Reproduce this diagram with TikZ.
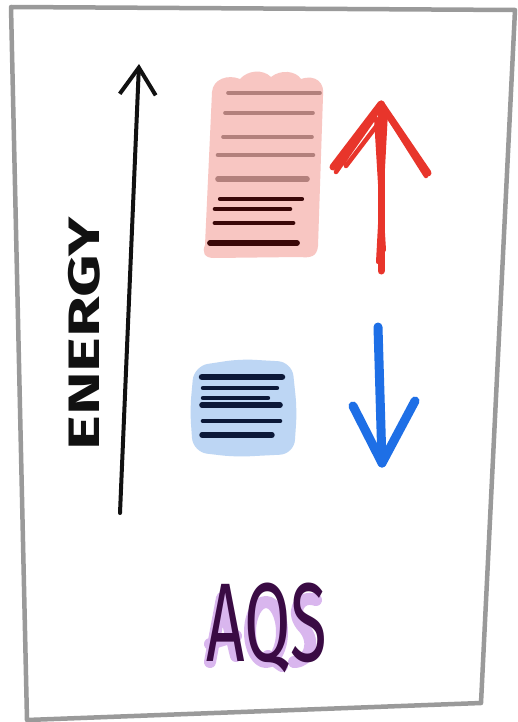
\documentclass[tikz,border=0pt]{standalone}
\usepackage{fontspec}
\setmainfont{Fira Sans}
\setsansfont{Fira Sans}
\usetikzlibrary{arrows.meta, positioning}
\definecolor{ink}{HTML}{111111}
\definecolor{frame}{HTML}{9A9A9A}
\definecolor{hotsoft}{HTML}{F8C6C2}
\definecolor{hotline}{HTML}{B3807C}
\definecolor{hotdark}{HTML}{3A0808}
\definecolor{hot}{HTML}{E8352B}
\definecolor{coldsoft}{HTML}{BDD6F4}
\definecolor{colddark}{HTML}{0B1838}
\definecolor{cold}{HTML}{1E6FE6}
\definecolor{plum}{HTML}{3A0B44}
\definecolor{plumsoft}{HTML}{D9B6EE}
\tikzset{
  font=\sffamily,
  %
  sheet/.style={draw=frame, line width=4.5pt, line join=round, fill=white},
  rowline/.style={line cap=round, line width=4pt},
  scrib/.style={line cap=round, line join=round},
  smudge/.style={draw=plumsoft, line width=12pt, line cap=round, line join=round},
  %
  axis/.style={draw=ink, line width=4pt, line cap=round,
               -{Straight Barb[length=27pt, width=36pt, line width=4pt]}},
  lbl/.style={text=ink, inner sep=0pt},
  big/.style={inner sep=0pt, font=\sffamily\fontsize{112}{112}\selectfont},
}
\begin{document}
\begin{tikzpicture}[x=1pt, y=-1pt]
  \useasboundingbox (0,0) rectangle (518,722);

  % ---- sheet ------------------------------------------------------------
  \draw[sheet] (11,7) -- (515,10) -- (481,703) -- (27,720) -- cycle;

  % ---- energy axis ------------------------------------------------------
  \coordinate (foot) at (120,513);
  \coordinate (tip) at (139,64);
  \draw[axis] (foot) -- (tip);
  \node[lbl, rotate=90, font=\sffamily\bfseries\fontsize{44}{44}\selectfont]
    (energy) at (84,334) {\scalebox{1.5}[1]{ENERGY}};

  % ---- hot block --------------------------------------------------------
  \fill[hotsoft] (205,245) -- (212,92)
    .. controls (213,79) and (228,74) .. (240,79)
    .. controls (248,70) and (263,69) .. (271,77)
    .. controls (281,69) and (296,71) .. (301,79)
    .. controls (316,74) and (325,83) .. (323,96)
    -- (318,246) .. controls (317,257) and (310,258) .. (300,257)
    -- (214,258) .. controls (204,258) and (202,252) .. (205,245) -- cycle;
  \foreach \xa/\xb/\y/\w in {228/320/93/3.6, 225/313/113/3.6, 223/312/137/3.6,
                             218/313/155/4.6, 218/307/179/5.6}
    \draw[rowline, hotline, line width=\w pt] (\xa,\y) -- (\xb,\y);
  \foreach \xa/\xb/\y/\w in {220/302/199/4.2, 215/290/209/4.6, 215/293/223/4.8,
                             210/297/243/5.8}
    \draw[rowline, hotdark, line width=\w pt] (\xa,\y) -- (\xb,\y);

  % up arrow, scribbled
  \coordinate (upfoot) at (381,271);
  \coordinate (uptip) at (381,104);
  \draw[scrib, hot, line width=7pt] (upfoot) -- (uptip);
  \draw[scrib, hot, line width=4pt] (378,262) -- (386,112) (384,250) -- (376,118);
  \draw[scrib, hot, line width=7pt] (333,167) -- (uptip) -- (428,173);
  \draw[scrib, hot, line width=4.5pt] (340,160) -- (379,110) (336,172) -- (374,118)
    (421,166) -- (384,108) (426,176) -- (388,116) (346,166) -- (378,124);

  % ---- cold block -------------------------------------------------------
  \fill[coldsoft, rounded corners=14pt] (194,366) -- (240,359) -- (292,362)
    -- (297,410) -- (294,454) -- (235,457) -- (193,452) -- (190,410) -- cycle;
  \foreach \xa/\xb/\y/\w in {202/282/377/6.5, 203/277/388/4.4, 203/268/398/4.4,
                             202/280/405/5.6, 203/280/421/4.6, 202/272/435/5.4}
    \draw[rowline, colddark, line width=\w pt] (\xa,\y) -- (\xb,\y);

  % down arrow
  \coordinate (downfoot) at (378,327);
  \coordinate (downtip) at (382,463);
  \draw[scrib, cold, line width=9pt] (downfoot) -- (downtip);
  \draw[scrib, cold, line width=9pt] (353,406) -- (downtip) -- (415,401);

  % ---- label ------------------------------------------------------------
  % soft smudge under the letters
  \draw[smudge] (210,662) -- (222,598) -- (236,656) (210,644) -- (236,636);
  \draw[smudge] (266,632) ellipse [x radius=16, y radius=30];
  \draw[smudge] (268,656) -- (282,666);
  \draw[smudge] (316,600) .. controls (298,594) and (290,614) .. (304,628)
    .. controls (316,642) and (310,662) .. (294,662);
  \node[big, text=plum] (aqs) at (267,628) {\scalebox{0.6}[1]{AQS}};

\end{tikzpicture}
\end{document}
